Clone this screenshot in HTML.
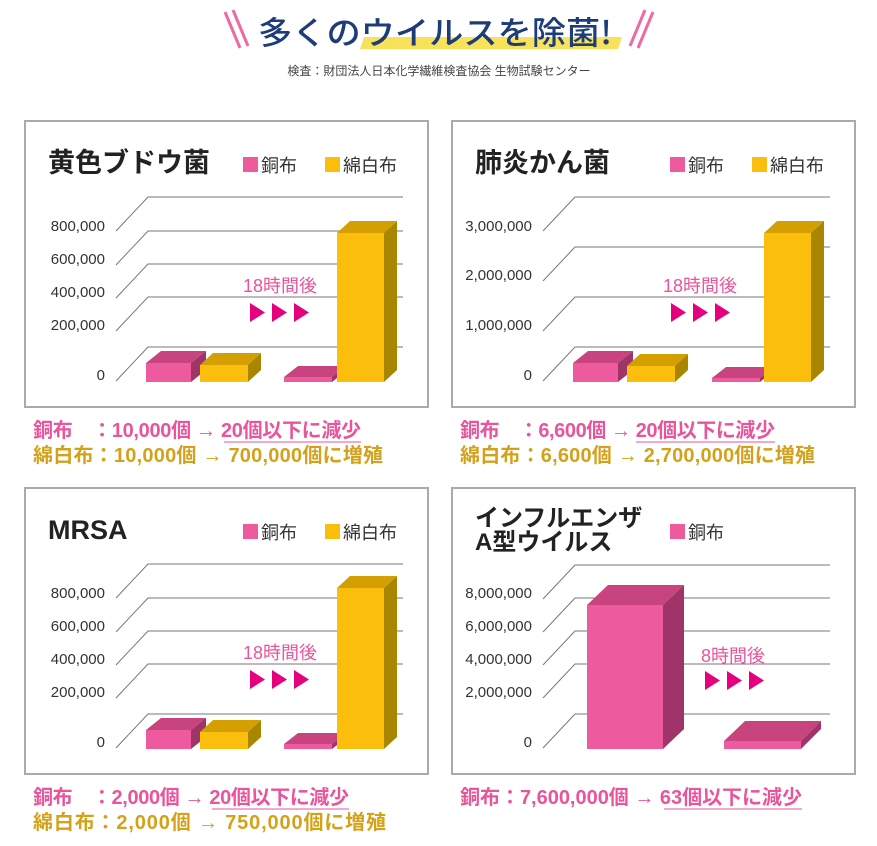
<!DOCTYPE html>
<html><head><meta charset="utf-8">
<style>
body{margin:0;background:#fff;}
svg{display:block;font-family:"Liberation Sans","Noto Sans CJK JP",sans-serif;}
.t{font-weight:bold;fill:#222;}
.ax{font-size:15px;fill:#333;text-anchor:end;}
.g{stroke:#777;stroke-width:1;fill:none;}
.lg{font-size:18px;fill:#333;}
.pk{fill:#e8559b;font-weight:bold;font-size:20px;}
.yl{fill:#d4a21a;font-weight:bold;font-size:20px;}
.hr{fill:#e8559b;font-size:18px;text-anchor:middle;}
</style></head><body>
<svg width="877" height="846" viewBox="0 0 877 846" xmlns="http://www.w3.org/2000/svg">
<defs>
<g id="tri"><polygon points="0,0 15,9.5 0,19" fill="#e6007e"/><polygon points="22,0 37,9.5 22,19" fill="#e6007e"/><polygon points="44,0 59,9.5 44,19" fill="#e6007e"/></g>
</defs>
<polygon points="364,37 622,37 618,49 360,49" fill="#f7e25a"/>
<g stroke="#ee6aa7" stroke-width="3"><line x1="225" y1="12" x2="240" y2="48"/><line x1="233" y1="10" x2="248" y2="46"/><line x1="653" y1="12" x2="638" y2="48"/><line x1="645" y1="10" x2="630" y2="46"/></g>
<text x="258" y="44" font-size="32" fill="#1d3c78" textLength="354" lengthAdjust="spacingAndGlyphs" style="font-family:'Noto Sans CJK JP',sans-serif;font-weight:500">多くのウイルスを除菌!</text>
<text x="439" y="75" font-size="12" text-anchor="middle" fill="#444">検査：財団法人日本化学繊維検査協会 生物試験センター</text>

<g>
<rect x="25" y="121" width="403" height="286" fill="#fff" stroke="#aaa" stroke-width="2"/>
<text x="48" y="172" font-size="27" class="t">黄色ブドウ菌</text>
<rect x="243" y="157" width="15" height="15" fill="#ee5a9e"/><text x="261" y="172" class="lg">銅布</text>
<rect x="325" y="157" width="15" height="15" fill="#fbbe0c"/><text x="343" y="172" class="lg">綿白布</text>
<g class="g">
<path d="M116,231 L148,197 H403"/><path d="M116,265 L148,231 H403"/><path d="M116,298 L148,264 H403"/><path d="M116,331 L148,297 H403"/><path d="M116,381 L148,347 H403"/>
</g>
<text x="105" y="231" class="ax">800,000</text><text x="105" y="264" class="ax">600,000</text><text x="105" y="297" class="ax">400,000</text><text x="105" y="330" class="ax">200,000</text><text x="105" y="380" class="ax">0</text>
<polygon points="146,363 161,351 206,351 191,363" fill="#c8447f"/><polygon points="191,363 206,351 206,370 191,382" fill="#9e3468"/><rect x="146" y="363" width="45" height="19" fill="#ee5a9e"/>
<polygon points="200,365 213,353 261,353 248,365" fill="#d49f00"/><polygon points="248,365 261,353 261,370 248,382" fill="#a88600"/><rect x="200" y="365" width="48" height="17" fill="#fbbe0c"/>
<polygon points="284,377 298,366 346,366 332,377" fill="#c8447f"/><polygon points="332,377 346,366 346,371 332,382" fill="#9e3468"/><rect x="284" y="377" width="48" height="5" fill="#ee5a9e"/>
<polygon points="337,233 350,221 397,221 384,233" fill="#d49f00"/><polygon points="384,233 397,221 397,370 384,382" fill="#a88600"/><rect x="337" y="233" width="47" height="149" fill="#fbbe0c"/>
<text x="280" y="292" class="hr">18時間後</text>
<use href="#tri" x="250" y="303"/>
<text x="33" y="437" class="pk" textLength="328" lengthAdjust="spacing">銅布　：10,000個 <tspan font-weight="normal">→</tspan> 20個以下に減少</text>
<line x1="224" y1="442" x2="361" y2="442" stroke="#e8559b"/>
<text x="33" y="462" class="yl" textLength="350" lengthAdjust="spacing">綿白布：10,000個 <tspan font-weight="normal">→</tspan> 700,000個に増殖</text>
</g>

<g>
<rect x="452" y="121" width="403" height="286" fill="#fff" stroke="#aaa" stroke-width="2"/>
<text x="475" y="172" font-size="27" class="t">肺炎かん菌</text>
<rect x="670" y="157" width="15" height="15" fill="#ee5a9e"/><text x="688" y="172" class="lg">銅布</text>
<rect x="752" y="157" width="15" height="15" fill="#fbbe0c"/><text x="770" y="172" class="lg">綿白布</text>
<g class="g">
<path d="M543,231 L575,197 H830"/><path d="M543,281 L575,247 H830"/><path d="M543,331 L575,297 H830"/><path d="M543,381 L575,347 H830"/>
</g>
<text x="532" y="231" class="ax">3,000,000</text><text x="532" y="280" class="ax">2,000,000</text><text x="532" y="330" class="ax">1,000,000</text><text x="532" y="380" class="ax">0</text>
<polygon points="573,363 588,351 633,351 618,363" fill="#c8447f"/><polygon points="618,363 633,351 633,370 618,382" fill="#9e3468"/><rect x="573" y="363" width="45" height="19" fill="#ee5a9e"/>
<polygon points="627,366 640,354 688,354 675,366" fill="#d49f00"/><polygon points="675,366 688,354 688,370 675,382" fill="#a88600"/><rect x="627" y="366" width="48" height="16" fill="#fbbe0c"/>
<polygon points="712,378 726,367 774,367 760,378" fill="#c8447f"/><polygon points="760,378 774,367 774,371 760,382" fill="#9e3468"/><rect x="712" y="378" width="48" height="4" fill="#ee5a9e"/>
<polygon points="764,233 777,221 824,221 811,233" fill="#d49f00"/><polygon points="811,233 824,221 824,370 811,382" fill="#a88600"/><rect x="764" y="233" width="47" height="149" fill="#fbbe0c"/>
<text x="700" y="292" class="hr">18時間後</text>
<use href="#tri" x="671" y="303"/>
<text x="460" y="437" class="pk" textLength="315" lengthAdjust="spacing">銅布　：6,600個 <tspan font-weight="normal">→</tspan> 20個以下に減少</text>
<line x1="636" y1="442" x2="775" y2="442" stroke="#e8559b"/>
<text x="460" y="462" class="yl" textLength="355" lengthAdjust="spacing">綿白布：6,600個 <tspan font-weight="normal">→</tspan> 2,700,000個に増殖</text>
</g>

<g transform="translate(0,367)">
<rect x="25" y="121" width="403" height="286" fill="#fff" stroke="#aaa" stroke-width="2"/>
<text x="48" y="172" font-size="27" class="t">MRSA</text>
<rect x="243" y="157" width="15" height="15" fill="#ee5a9e"/><text x="261" y="172" class="lg">銅布</text>
<rect x="325" y="157" width="15" height="15" fill="#fbbe0c"/><text x="343" y="172" class="lg">綿白布</text>
<g class="g">
<path d="M116,231 L148,197 H403"/><path d="M116,265 L148,231 H403"/><path d="M116,298 L148,264 H403"/><path d="M116,331 L148,297 H403"/><path d="M116,381 L148,347 H403"/>
</g>
<text x="105" y="231" class="ax">800,000</text><text x="105" y="264" class="ax">600,000</text><text x="105" y="297" class="ax">400,000</text><text x="105" y="330" class="ax">200,000</text><text x="105" y="380" class="ax">0</text>
<polygon points="146,363 161,351 206,351 191,363" fill="#c8447f"/><polygon points="191,363 206,351 206,370 191,382" fill="#9e3468"/><rect x="146" y="363" width="45" height="19" fill="#ee5a9e"/>
<polygon points="200,365 213,353 261,353 248,365" fill="#d49f00"/><polygon points="248,365 261,353 261,370 248,382" fill="#a88600"/><rect x="200" y="365" width="48" height="17" fill="#fbbe0c"/>
<polygon points="284,377 298,366 346,366 332,377" fill="#c8447f"/><polygon points="332,377 346,366 346,371 332,382" fill="#9e3468"/><rect x="284" y="377" width="48" height="5" fill="#ee5a9e"/>
<polygon points="337,221 350,209 397,209 384,221" fill="#d49f00"/><polygon points="384,221 397,209 397,370 384,382" fill="#a88600"/><rect x="337" y="221" width="47" height="161" fill="#fbbe0c"/>
<text x="280" y="292" class="hr">18時間後</text>
<use href="#tri" x="250" y="303"/>
<text x="33" y="437" class="pk" textLength="316" lengthAdjust="spacing">銅布　：2,000個 <tspan font-weight="normal">→</tspan> 20個以下に減少</text>
<line x1="212" y1="442" x2="349" y2="442" stroke="#e8559b"/>
<text x="33" y="462" class="yl" textLength="353" lengthAdjust="spacing">綿白布：2,000個 <tspan font-weight="normal">→</tspan> 750,000個に増殖</text>
</g>

<g>
<rect x="452" y="488" width="403" height="286" fill="#fff" stroke="#aaa" stroke-width="2"/>
<text x="475" y="526" font-size="24" class="t">インフルエンザ</text>
<text x="475" y="550" font-size="24" class="t">A型ウイルス</text>
<rect x="670" y="524" width="15" height="15" fill="#ee5a9e"/><text x="688" y="539" class="lg">銅布</text>
<g class="g">
<path d="M543,599 L575,565 H830"/><path d="M543,632 L575,598 H830"/><path d="M543,665 L575,631 H830"/><path d="M543,698 L575,664 H830"/><path d="M543,748 L575,714 H830"/>
</g>
<text x="532" y="598" class="ax">8,000,000</text><text x="532" y="631" class="ax">6,000,000</text><text x="532" y="664" class="ax">4,000,000</text><text x="532" y="697" class="ax">2,000,000</text><text x="532" y="747" class="ax">0</text>
<polygon points="587,605 608,585 684,585 663,605" fill="#c8447f"/><polygon points="663,605 684,585 684,729 663,749" fill="#9e3468"/><rect x="587" y="605" width="76" height="144" fill="#ee5a9e"/>
<polygon points="724,741 745,721 821,721 801,741" fill="#c8447f"/><polygon points="801,741 821,721 821,729 801,749" fill="#9e3468"/><rect x="724" y="741" width="77" height="8" fill="#ee5a9e"/>
<text x="733" y="662" class="hr">8時間後</text>
<use href="#tri" x="705" y="671"/>
<text x="460" y="804" class="pk" textLength="342" lengthAdjust="spacing">銅布：7,600,000個 <tspan font-weight="normal">→</tspan> 63個以下に減少</text>
<line x1="664" y1="809" x2="802" y2="809" stroke="#e8559b"/>
</g>
</svg>
</body></html>
